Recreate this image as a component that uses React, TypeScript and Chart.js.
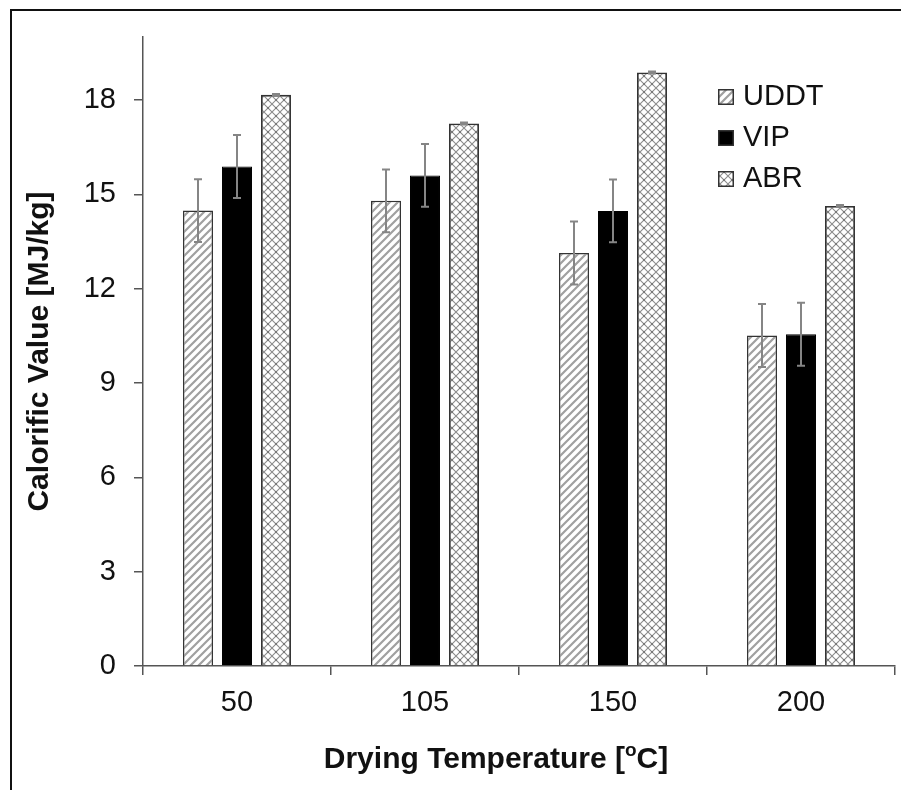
import React, { useEffect, useRef } from 'react';
import { Chart, registerables } from 'chart.js';

Chart.register(...registerables);

const categories = ['50', '105', '150', '200'];
const seriesNames = ['UDDT', 'VIP', 'ABR'];
const uddtValues = [14.48, 14.79, 13.13, 10.51];
const uddtErrors = [1.0, 1.0, 1.0, 1.0];
const vipValues = [15.88, 15.6, 14.47, 10.55];
const vipErrors = [1.0, 1.0, 1.0, 1.0];
const abrValues = [18.16, 17.25, 18.87, 14.63];
const abrErrors = [0.03, 0.03, 0.03, 0.03];
const yTickValues = [0, 3, 6, 9, 12, 15, 18];
const yMax = 20;
const yTitle = 'Calorific Value [MJ/kg]';
const xTitleParts = ['Drying Temperature [', 'o', 'C]'];

const FONT = "'Liberation Sans', Arial, sans-serif";

function makeHatch(): CanvasPattern | string {
  const c = document.createElement('canvas');
  c.width = 8;
  c.height = 8;
  const g = c.getContext('2d');
  if (!g) return '#ccc';
  g.fillStyle = '#ffffff';
  g.fillRect(0, 0, 8, 8);
  g.strokeStyle = '#a0a0a0';
  g.lineWidth = 2.2;
  g.beginPath();
  g.moveTo(-2, 10);
  g.lineTo(10, -2);
  g.moveTo(-6, 6);
  g.lineTo(6, -6);
  g.moveTo(2, 14);
  g.lineTo(14, 2);
  g.stroke();
  return g.createPattern(c, 'repeat') as CanvasPattern;
}

function makeCross(): CanvasPattern | string {
  const c = document.createElement('canvas');
  c.width = 8;
  c.height = 8;
  const g = c.getContext('2d');
  if (!g) return '#ddd';
  g.fillStyle = '#ffffff';
  g.fillRect(0, 0, 8, 8);
  g.strokeStyle = '#8c8c8c';
  g.lineWidth = 1.1;
  g.beginPath();
  g.moveTo(0, 0);
  g.lineTo(8, 8);
  g.moveTo(8, 0);
  g.lineTo(0, 8);
  g.stroke();
  g.fillStyle = '#333';
  g.fillRect(3.5, 3.5, 1, 1);
  return g.createPattern(c, 'repeat') as CanvasPattern;
}

const errorBarPlugin = {
  id: 'errorBars',
  afterDatasetsDraw(chart: any) {
    const ctx = chart.ctx;
    const ys = chart.scales.y;
    chart.data.datasets.forEach((ds: any, i: number) => {
      const meta = chart.getDatasetMeta(i);
      meta.data.forEach((bar: any, j: number) => {
        const v = ds.data[j];
        const e = ds.errors[j];
        const x = bar.x;
        const yt = ys.getPixelForValue(v + e);
        const yb = ys.getPixelForValue(v - e);
        ctx.save();
        ctx.strokeStyle = '#858585';
        ctx.lineWidth = 2;
        ctx.beginPath();
        ctx.moveTo(x, yt);
        ctx.lineTo(x, yb);
        ctx.moveTo(x - 4, yt);
        ctx.lineTo(x + 4, yt);
        ctx.moveTo(x - 4, yb);
        ctx.lineTo(x + 4, yb);
        ctx.stroke();
        ctx.restore();
      });
    });
  },
};

const legendPlugin = {
  id: 'customLegend',
  afterDraw(chart: any) {
    const ctx = chart.ctx;
    const x0 = 718;
    const baselines = [105, 146, 187];
    chart.data.datasets.forEach((ds: any, i: number) => {
      const by = baselines[i];
      ctx.save();
      ctx.fillStyle = ds.backgroundColor;
      ctx.fillRect(x0, by - 16, 16, 16);
      ctx.strokeStyle = '#333';
      ctx.lineWidth = 1.5;
      ctx.strokeRect(x0 + 0.75, by - 16 + 0.75, 14.5, 14.5);
      ctx.fillStyle = '#111';
      ctx.font = `29px ${FONT}`;
      ctx.textBaseline = 'alphabetic';
      ctx.textAlign = 'left';
      ctx.fillText(ds.label, 743, by);
      ctx.restore();
    });
  },
};

const xTitlePlugin = {
  id: 'xTitle',
  afterDraw(chart: any) {
    const ctx = chart.ctx;
    ctx.save();
    ctx.fillStyle = '#111';
    ctx.textBaseline = 'alphabetic';
    ctx.textAlign = 'left';
    const big = `bold 30px ${FONT}`;
    const small = `bold 19px ${FONT}`;
    ctx.font = big;
    const w1 = ctx.measureText(xTitleParts[0]).width;
    const w3 = ctx.measureText(xTitleParts[2]).width;
    ctx.font = small;
    const w2 = ctx.measureText(xTitleParts[1]).width;
    const total = w1 + w2 + w3;
    const cx = 496;
    const base = 768;
    let x = cx - total / 2;
    ctx.font = big;
    ctx.fillText(xTitleParts[0], x, base);
    x += w1;
    ctx.font = small;
    ctx.fillText(xTitleParts[1], x, base - 12);
    x += w2;
    ctx.font = big;
    ctx.fillText(xTitleParts[2], x, base);
    ctx.restore();
  },
};

export default function App() {
  const ref = useRef<HTMLCanvasElement | null>(null);

  useEffect(() => {
    if (!ref.current) return;
    const hatch = makeHatch();
    const cross = makeCross();
    const chart = new Chart(ref.current, {
      type: 'bar',
      data: {
        labels: categories,
        datasets: [
          {
            label: seriesNames[0],
            data: uddtValues,
            errors: uddtErrors,
            backgroundColor: hatch,
            borderColor: '#333',
            borderWidth: 1.5,
          } as any,
          {
            label: seriesNames[1],
            data: vipValues,
            errors: vipErrors,
            backgroundColor: '#000',
            borderColor: '#000',
            borderWidth: 1,
          } as any,
          {
            label: seriesNames[2],
            data: abrValues,
            errors: abrErrors,
            backgroundColor: cross,
            borderColor: '#333',
            borderWidth: 1.8,
          } as any,
        ],
      },
      options: {
        responsive: false,
        animation: false,
        devicePixelRatio: 1,
        categoryPercentage: 0.6223,
        barPercentage: 0.769,
        layout: { padding: { top: 37, right: 6, bottom: 0, left: 0 } },
        plugins: {
          legend: { display: false },
          tooltip: { enabled: false },
        },
        scales: {
          x: {
            offset: true,
            grid: {
              offset: true,
              drawOnChartArea: false,
              drawTicks: true,
              tickLength: 9,
              color: '#555',
              lineWidth: 1.5,
            },
            border: { color: '#555', width: 1.5 },
            ticks: {
              color: '#111',
              font: { size: 29, family: FONT },
              padding: 11,
            },
            afterFit(scale: any) {
              scale.height = 124;
            },
          },
          y: {
            min: 0,
            max: yMax,
            grid: {
              drawOnChartArea: false,
              drawTicks: true,
              tickLength: 9,
              color: '#555',
              lineWidth: 1.5,
            },
            border: { color: '#555', width: 1.5 },
            ticks: {
              color: '#111',
              font: { size: 29, family: FONT },
              padding: 18,
            },
            title: {
              display: true,
              text: yTitle,
              color: '#111',
              font: { size: 30, weight: 'bold', family: FONT },
              padding: { top: 22, bottom: 0 },
            },
            afterBuildTicks(scale: any) {
              scale.ticks = yTickValues.map((v) => ({ value: v }));
            },
            afterFit(scale: any) {
              scale.width = 143;
            },
          },
        },
      } as any,
      plugins: [errorBarPlugin, legendPlugin, xTitlePlugin],
    });
    return () => chart.destroy();
  }, []);

  return (
    <div
      style={{
        position: 'fixed',
        left: 0,
        top: 0,
        width: 901,
        height: 790,
        overflow: 'hidden',
        background: '#fff',
      }}
    >
      <div
        style={{
          position: 'absolute',
          left: 10,
          top: 9,
          width: 1000,
          height: 1000,
          border: '2px solid #111',
        }}
      />
      <canvas
        ref={ref}
        width={901}
        height={790}
        style={{ position: 'absolute', left: 0, top: 0, width: 901, height: 790 }}
      />
    </div>
  );
}
